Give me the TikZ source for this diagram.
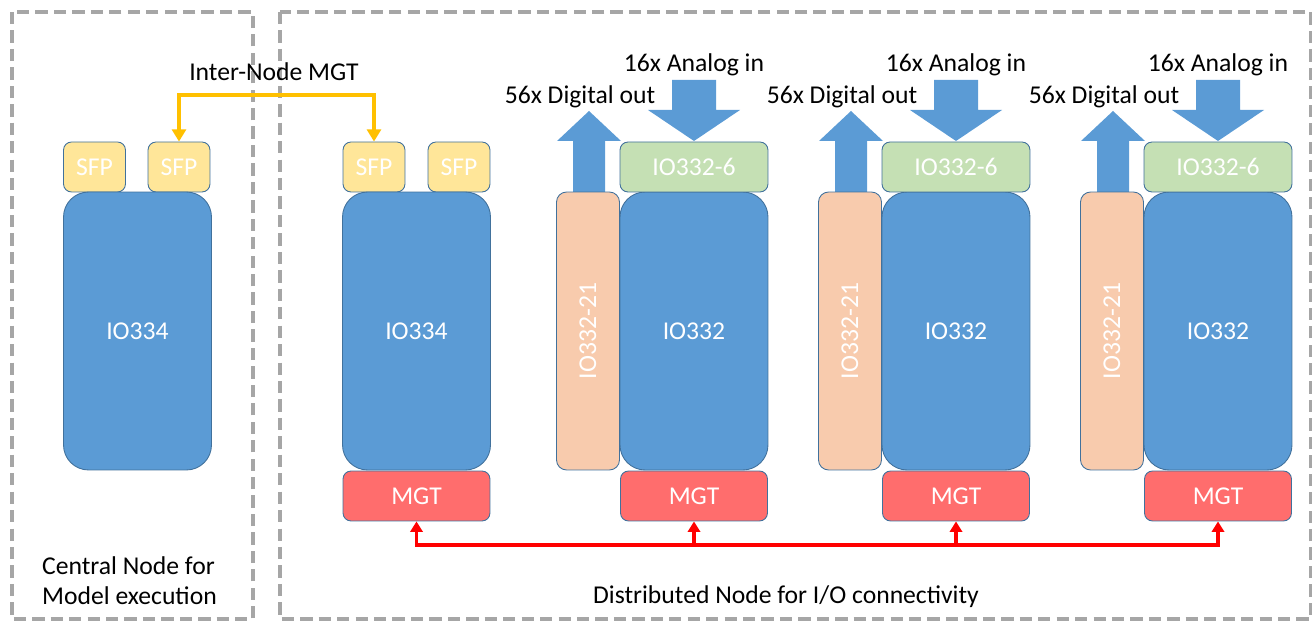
\documentclass[tikz,border=0pt]{standalone}
\usepackage{fontspec}
\setmainfont{Carlito}
\usetikzlibrary{arrows.meta}
\definecolor{boxblue}{HTML}{5B9BD5}
\definecolor{edgeblue}{HTML}{41719C}
\definecolor{sfpyellow}{HTML}{FFE699}
\definecolor{iogreen}{HTML}{C5E0B4}
\definecolor{iopeach}{HTML}{F8CBAD}
\definecolor{mgtred}{HTML}{FF6D6D}
\definecolor{linkorange}{HTML}{FFC000}
\definecolor{framegray}{HTML}{A6A6A6}

\begin{document}
\begin{tikzpicture}[x = 0.02cm, y = -0.02cm,
    every node/.style = {font = \fontsize{14.6}{17}\selectfont},
    block/.style = {draw = edgeblue, line width = 0.5pt, text = white, inner sep = 0pt},
    card/.style = {block, fill = boxblue, rounded corners = 0.5cm,
                   minimum width = 2.96cm, minimum height = 5.56cm},
    sfp/.style = {block, fill = sfpyellow, rounded corners = 0.16cm,
                  minimum width = 1.24cm, minimum height = 1cm},
    adc/.style = {block, fill = iogreen, rounded corners = 0.16cm,
                  minimum width = 2.96cm, minimum height = 1cm},
    dio/.style = {block, fill = iopeach, rounded corners = 0.2cm,
                  minimum width = 5.56cm, minimum height = 1.26cm, rotate = 90},
    mgt/.style = {block, fill = mgtred, rounded corners = 0.16cm,
                  minimum width = 2.94cm, minimum height = 1cm},
    frame/.style = {framegray, line width = 2.2pt, dash pattern = on 7pt off 3.5pt},
    link/.style = {linkorange, line width = 2.2pt,
                   {Triangle[width = 8pt, length = 7pt]}-{Triangle[width = 8pt, length = 7pt]}},
    bus/.style = {red, line width = 2pt}]
  \useasboundingbox (0, 0) rectangle (1312, 624);

  \draw [frame] (12, 12) rectangle (253, 619);
  \draw [frame] (280, 12) rectangle (1311, 619);

  \node [sfp] (sfpa) at (94.5, 167) {SFP};
  \node [sfp] (sfpb) at (179, 167) {SFP};
  \node [card] (central) at (137.5, 331) {IO334};

  \node [sfp] (sfpc) at (374, 167) {SFP};
  \node [sfp] (sfpd) at (459, 167) {SFP};
  \node [card] (io334) at (416.5, 331) {IO334};
  \node [mgt] (mgt0) at (416.5, 496) {MGT};

  \foreach \i/\x in {1/694, 2/956, 3/1218} {
    \fill [boxblue] (\x-121, 192) -- (\x-121, 141) -- (\x-137, 141) -- (\x-105, 111)
      -- (\x-73, 141) -- (\x-89, 141) -- (\x-89, 192) -- cycle;
    \fill [boxblue] (\x-22, 80) -- (\x+22, 80) -- (\x+22, 110) -- (\x+46, 110)
      -- (\x, 141) -- (\x-46, 110) -- (\x-22, 110) -- cycle;
    \node [dio] (dio\i) at (\x-106, 331) {IO332-21};
    \node [card] (io332\i) at (\x, 331) {IO332};
    \node [adc] (adc\i) at (\x, 167) {IO332-6};
    \node [mgt] (mgt\i) at (\x, 496) {MGT};
    \node (ain\i) at (\x, 65) {16x Analog in};
    \node (dout\i) at (\x-114, 97) {56x Digital out};
  }

  \node (imgtlabel) at (274, 72) {Inter-Node MGT};
  \coordinate (imgt) at (274, 95);
  \draw [link] (sfpb.north) |- (imgt) -| (sfpc.north);

  \coordinate (busline) at (0, 545);
  \draw [bus, {Triangle[width = 7pt, length = 6pt]}-{Triangle[width = 7pt, length = 6pt]}]
    (mgt0.south) -- (mgt0.south |- busline) -- (mgt3.south |- busline) -- (mgt3.south);
  \foreach \i in {1, 2}
    \draw [bus, -{Triangle[width = 7pt, length = 6pt]}] (mgt\i.south |- busline) -- (mgt\i.south);

  \node [align = left, anchor = west] (central label) at (36, 581) {Central Node for\\Model execution};
  \node (distributed label) at (786, 597) {Distributed Node for I/O connectivity};
\end{tikzpicture}
\end{document}
